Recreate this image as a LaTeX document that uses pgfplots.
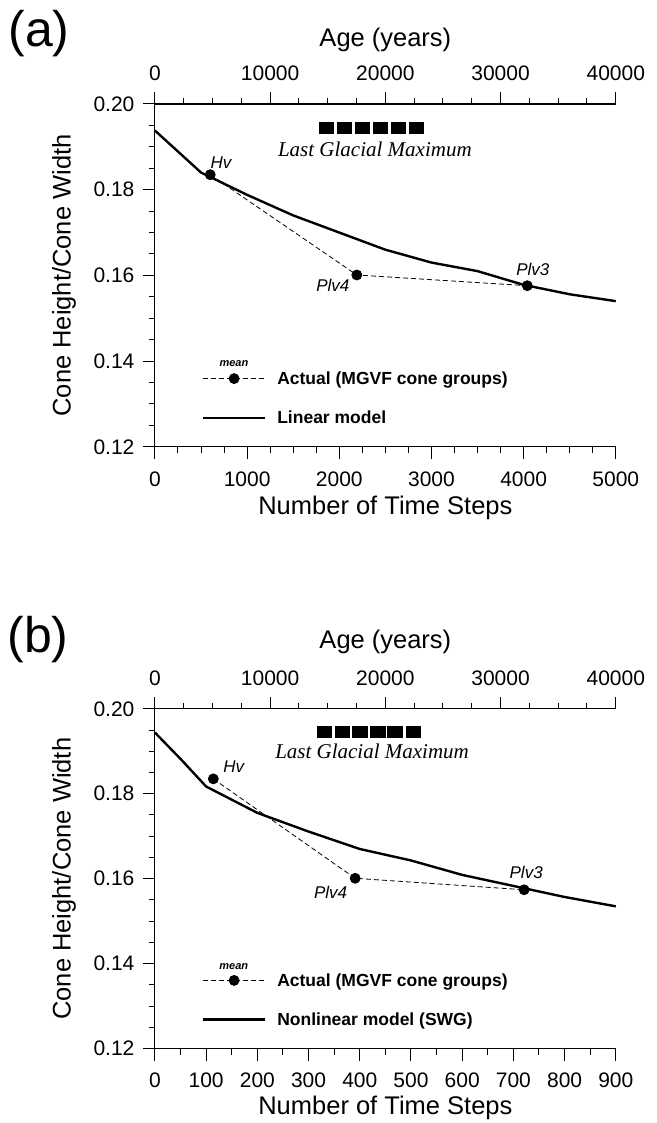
\documentclass[border=0pt]{standalone}
\usepackage{pgfplots}
\pgfplotsset{compat=1.18}
\usepackage{fontspec}
\setmainfont{Liberation Sans}
\newfontfamily\timesfont{Liberation Serif}

\pgfplotsset{
  common/.style={
    scale only axis, width=461pt, clip=false,
    /pgf/number format/assume math mode=true,
    /pgf/number format/set thousands separator={},
    tick align=outside,
    major tick length=12pt, minor tick length=6pt,
    axis line style={-, line width=1.1pt},
    tick style={line width=1pt, black},
    tick label style={font=\fontsize{21}{24}\selectfont},
    label style={font=\fontsize{25.5}{28}\selectfont},
  },
  cone/.style={
    common,
    axis x line*=bottom, axis y line*=left,
    ymin=0.12, ymax=0.20,
    ytick={0.12,0.14,0.16,0.18,0.20},
    minor y tick num=3,
    scaled y ticks=false, scaled x ticks=false,
    yticklabel style={/pgf/number format/.cd, fixed, fixed zerofill, precision=2},
    xticklabel shift=9pt, yticklabel shift=5pt,
    ylabel={Cone Height/Cone Width},
    xlabel={Number of Time Steps},
    ylabel style={at={(axis description cs:-0.197,0.5)}, anchor=center, rotate=0},
    legend cell align=left,
    legend image code/.code={\draw[mark repeat=2,mark phase=2,##1] plot coordinates {(0pt,0pt) (31pt,0pt) (62pt,0pt)};},
    legend style={draw=none, fill=none, anchor=north west,
      font=\bfseries\fontsize{17.5}{20}\selectfont, row sep=21pt,
      /tikz/every odd column/.append style={column sep=9pt}},
  },
  age/.style={
    common,
    axis x line*=top, axis y line=none,
    xmin=0, xmax=40000, ymin=0, ymax=1,
    xtick={0,10000,20000,30000,40000}, minor x tick num=3,
    scaled x ticks=false,
    xticklabel shift=8pt,
    xlabel={Age (years)},
  },
}

\begin{document}
\begin{tikzpicture}
\path (0pt,0pt) rectangle (657pt,-1123pt);

% ---------------- (a) ----------------
\node[font=\fontsize{50}{55}\selectfont] at (39pt,-34pt) {(a)};
\begin{axis}[cone, at={(155pt,-447pt)}, anchor=south west, height=343pt,
  xmin=0, xmax=5000, xtick={0,1000,2000,3000,4000,5000}, minor x tick num=3,
  xlabel style={at={(axis description cs:0.5,-0.178)}, anchor=center},
  legend style={at={(axis description cs:0.095,0.232)}}]
\addplot[line width=0.8pt, dash pattern=on 5pt off 3pt, mark=*, mark size=5pt,
  mark options={solid}] coordinates {(600,0.1835) (2190,0.1601) (4040,0.1576)};
\addlegendentry{Actual (MGVF cone groups)}
\addplot[line width=2.4pt, mark=none] coordinates {
  (0,0.1938) (500,0.1840) (1000,0.1788) (1500,0.1740) (2000,0.1700) (2500,0.1660)
  (3000,0.1630) (3500,0.1610) (4000,0.1578) (4500,0.1556) (5000,0.1540)};
\addlegendentry{Linear model}
\addplot[only marks, mark=square*, mark size=5.5pt, mark options={xscale=1.3}, forget plot]
  coordinates {(1861,0.1944) (2056,0.1944) (2251,0.1944) (2446,0.1944) (2641,0.1944) (2835,0.1944)};
\node[font=\timesfont\itshape\fontsize{21}{24}\selectfont] at (axis cs:2386,0.1893) {Last Glacial Maximum};
\node[font=\itshape\fontsize{17}{20}\selectfont] at (axis cs:716,0.1862) {Hv};
\node[font=\itshape\fontsize{17}{20}\selectfont] at (axis cs:1930,0.1576) {Plv4};
\node[font=\itshape\fontsize{17}{20}\selectfont] at (axis cs:4100,0.1613) {Plv3};
\node[font=\bfseries\itshape\fontsize{11}{12}\selectfont] at (axis cs:857,0.1394) {mean};
\end{axis}
\begin{axis}[age, at={(155pt,-447pt)}, anchor=south west, height=343pt,
  xlabel style={at={(axis description cs:0.5,1.187)}, anchor=center}]
\addplot[draw=none] coordinates {(0,0)};
\end{axis}

% ---------------- (b) ----------------
\node[font=\fontsize{50}{55}\selectfont] at (38pt,-640pt) {(b)};
\begin{axis}[cone, at={(155pt,-1049pt)}, anchor=south west, height=340pt,
  xmin=0, xmax=900, xtick={0,100,200,300,400,500,600,700,800,900}, minor x tick num=1,
  xlabel style={at={(axis description cs:0.5,-0.174)}, anchor=center},
  legend style={at={(axis description cs:0.095,0.234)}}]
\addplot[line width=0.8pt, dash pattern=on 5pt off 3pt, mark=*, mark size=5pt,
  mark options={solid}] coordinates {(114,0.1835) (391,0.1601) (721,0.1574)};
\addlegendentry{Actual (MGVF cone groups)}
\addplot[line width=2.4pt, mark=none] coordinates {
  (0,0.1944) (50,0.1882) (100,0.1817) (200,0.1755) (300,0.1711) (400,0.1670)
  (500,0.1643) (600,0.1609) (700,0.1583) (800,0.1557) (900,0.1535)};
\addlegendentry{Nonlinear model (SWG)}
\addplot[only marks, mark=square*, mark size=5.5pt, mark options={xscale=1.3}, forget plot]
  coordinates {(330,0.1946) (365,0.1946) (400,0.1946) (435,0.1946) (468,0.1946) (504,0.1946)};
\node[font=\timesfont\itshape\fontsize{21}{24}\selectfont] at (axis cs:424,0.1899) {Last Glacial Maximum};
\node[font=\itshape\fontsize{17}{20}\selectfont] at (axis cs:154,0.1864) {Hv};
\node[font=\itshape\fontsize{17}{20}\selectfont] at (axis cs:343,0.1569) {Plv4};
\node[font=\itshape\fontsize{17}{20}\selectfont] at (axis cs:725,0.1614) {Plv3};
\node[font=\bfseries\itshape\fontsize{11}{12}\selectfont] at (axis cs:154,0.1393) {mean};
\end{axis}
\begin{axis}[age, at={(155pt,-1049pt)}, anchor=south west, height=340pt,
  xlabel style={at={(axis description cs:0.5,1.197)}, anchor=center}]
\addplot[draw=none] coordinates {(0,0)};
\end{axis}
\end{tikzpicture}
\end{document}
